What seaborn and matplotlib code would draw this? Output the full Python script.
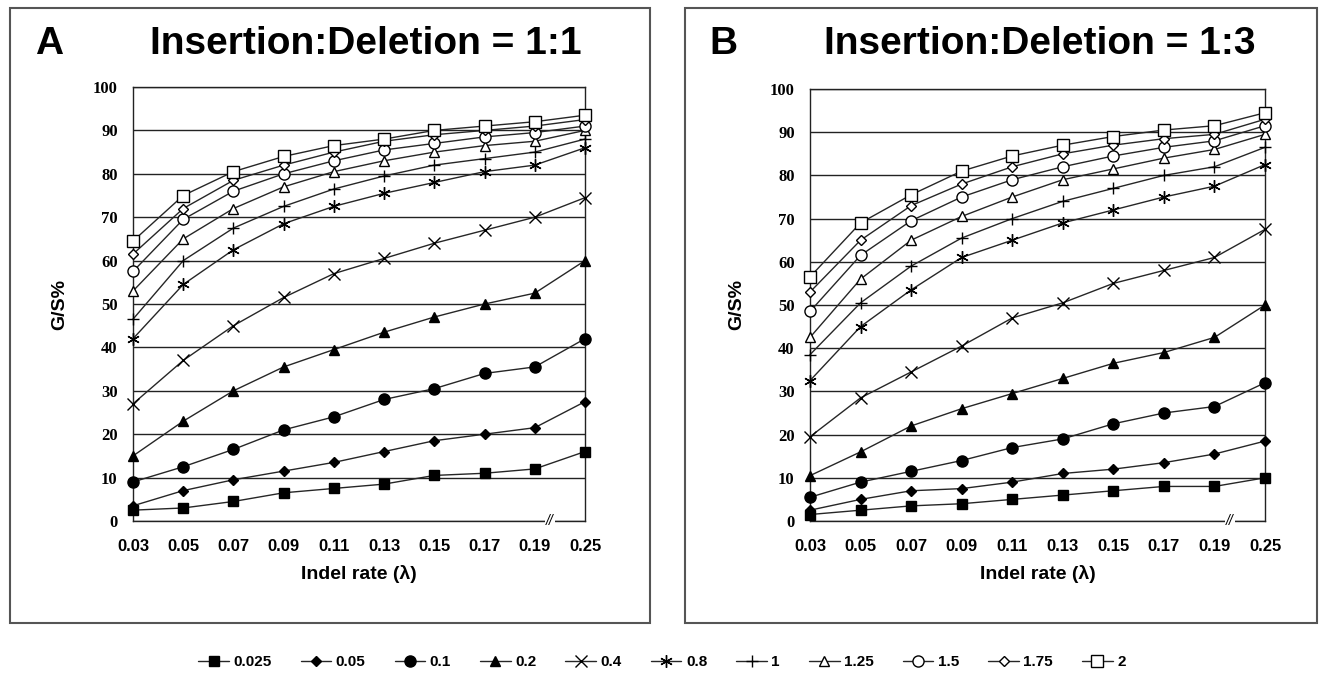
import numpy as np
import pandas as pd
import matplotlib
matplotlib.use("Agg")
import matplotlib.pyplot as plt
import seaborn as sns
from matplotlib.patches import Rectangle

# eixo x (taxa de indel) e séries (razão)
rates = ["0.03", "0.05", "0.07", "0.09", "0.11", "0.13", "0.15", "0.17", "0.19", "0.25"]
ratios = ["0.025", "0.05", "0.1", "0.2", "0.4", "0.8", "1", "1.25", "1.5", "1.75", "2"]

# Painel A - Insertion:Deletion = 1:1
a_0025 = [2.5, 3, 4.5, 6.5, 7.5, 8.5, 10.5, 11, 12, 16]
a_005 = [3.5, 7, 9.5, 11.5, 13.5, 16, 18.5, 20, 21.5, 27.5]
a_01 = [9, 12.5, 16.5, 21, 24, 28, 30.5, 34, 35.5, 42]
a_02 = [15, 23, 30, 35.5, 39.5, 43.5, 47, 50, 52.5, 60]
a_04 = [27, 37, 45, 51.5, 57, 60.5, 64, 67, 70, 74.5]
a_08 = [42, 54.5, 62.5, 68.5, 72.5, 75.5, 78, 80.5, 82, 86]
a_1 = [46.5, 60, 67.5, 72.5, 76.5, 79.5, 82, 83.5, 85, 88]
a_125 = [53, 65, 72, 77, 80.5, 83, 85, 86.5, 87.5, 90]
a_15 = [57.5, 69.5, 76, 80, 83, 85.5, 87, 88.5, 89.5, 91]
a_175 = [61.5, 72, 78.5, 82, 85, 87.5, 89, 90, 91, 92.5]
a_2 = [64.5, 75, 80.5, 84, 86.5, 88, 90, 91, 92, 93.5]

# Painel B - Insertion:Deletion = 1:3
b_0025 = [1.5, 2.5, 3.5, 4, 5, 6, 7, 8, 8, 10]
b_005 = [2.5, 5, 7, 7.5, 9, 11, 12, 13.5, 15.5, 18.5]
b_01 = [5.5, 9, 11.5, 14, 17, 19, 22.5, 25, 26.5, 32]
b_02 = [10.5, 16, 22, 26, 29.5, 33, 36.5, 39, 42.5, 50]
b_04 = [19.5, 28.5, 34.5, 40.5, 47, 50.5, 55, 58, 61, 67.5]
b_08 = [32.5, 45, 53.5, 61, 65, 69, 72, 75, 77.5, 82.5]
b_1 = [38.5, 50.5, 59, 65.5, 70, 74, 77, 80, 82, 86.5]
b_125 = [42.5, 56, 65, 70.5, 75, 79, 81.5, 84, 86, 89.5]
b_15 = [48.5, 61.5, 69.5, 75, 79, 82, 84.5, 86.5, 88, 91.5]
b_175 = [53, 65, 73, 78, 82, 85, 87, 88.5, 89.5, 93]
b_2 = [56.5, 69, 75.5, 81, 84.5, 87, 89, 90.5, 91.5, 94.5]

serie_a = [a_0025, a_005, a_01, a_02, a_04, a_08, a_1, a_125, a_15, a_175, a_2]
serie_b = [b_0025, b_005, b_01, b_02, b_04, b_08, b_1, b_125, b_15, b_175, b_2]

# marcador, preenchido, tamanho
estilos = {
    "0.025": ("s", True, 7.5),
    "0.05": ("D", True, 5),
    "0.1": ("o", True, 8),
    "0.2": ("^", True, 7.5),
    "0.4": ("x", False, 8.5),
    "0.8": ((6, 2, 0), False, 9),
    "1": ("+", False, 9),
    "1.25": ("^", False, 7.5),
    "1.5": ("o", False, 8),
    "1.75": ("D", False, 5.5),
    "2": ("s", False, 8),
}

sns.set_style("white")
plt.rcParams["font.family"] = ["Liberation Sans", "DejaVu Sans"]
plt.rcParams["text.color"] = "black"
plt.rcParams["axes.labelcolor"] = "black"
plt.rcParams["xtick.color"] = "black"
plt.rcParams["ytick.color"] = "black"

W, H = 1320, 677
fig = plt.figure(figsize=(W / 100, H / 100), dpi=100)


def fx(px):
    return px / W


def fy(py):
    return 1 - py / H


def desenhar_painel(left, right, top, bottom, valores, letra, titulo, cx):
    ax = fig.add_axes([fx(left), fy(bottom), fx(right - left), fy(top) - fy(bottom)])
    df = pd.DataFrame({
        "pos": np.tile(np.arange(len(rates)), len(ratios)),
        "ratio": np.repeat(ratios, len(rates)),
        "gs": np.concatenate(valores),
    })
    for ratio in ratios:
        m, cheio, ms = estilos[ratio]
        sub = df[df["ratio"] == ratio]
        sns.lineplot(data=sub, x="pos", y="gs", ax=ax, color="#262626", lw=1,
                     marker=m, ms=ms, mfc="black" if cheio else "white",
                     mec="black", mew=1, clip_on=False, legend=False, zorder=4)
    ax.set_xlim(0, len(rates) - 1)
    ax.set_ylim(0, 100)
    ax.set_xticks(np.arange(len(rates)))
    ax.set_xticklabels(rates, fontsize=12, fontweight="bold")
    ax.set_yticks(np.arange(0, 101, 10))
    ax.set_yticklabels([str(v) for v in range(0, 101, 10)], fontsize=12,
                       fontweight="bold", family="Liberation Serif")
    ax.yaxis.grid(True, color="#222222", lw=1)
    ax.set_axisbelow(True)
    for s in ax.spines.values():
        s.set_visible(True)
        s.set_color("#222222")
        s.set_linewidth(1)
    ax.tick_params(axis="x", direction="inout", length=10, width=1, color="#222222", pad=8)
    ax.tick_params(axis="y", direction="out", length=5, width=1, color="#222222", pad=6)
    ax.set_xlabel("Indel rate (λ)", fontsize=14, fontweight="bold", labelpad=8)
    ax.set_ylabel("G/S%", fontsize=14, fontweight="bold", labelpad=18)
    # quebra no eixo x
    ax.text(8.3, 0, "//", fontsize=10, ha="center", va="center", style="italic",
            bbox=dict(fc="white", ec="none", pad=0.8), clip_on=False, zorder=5)
    fig.text(fx(cx - 331), fy(44), letra, fontsize=28, fontweight="bold", ha="left", va="center")
    fig.text(fx(cx), fy(44), titulo, fontsize=28, fontweight="bold", ha="center", va="center")
    return ax


ax_a = desenhar_painel(133, 585, 87, 521, serie_a, "A", "Insertion:Deletion = 1:1", 366)
ax_b = desenhar_painel(810, 1265, 89, 521, serie_b, "B", "Insertion:Deletion = 1:3", 1040)

# caixas dos painéis
fig.add_artist(Rectangle((fx(10), fy(623)), fx(650 - 10), fy(8) - fy(623),
                         transform=fig.transFigure, fill=False, ec="#555555", lw=1.5))
fig.add_artist(Rectangle((fx(685), fy(623)), fx(1317 - 685), fy(8) - fy(623),
                         transform=fig.transFigure, fill=False, ec="#555555", lw=1.5))

handles = ax_a.get_lines()[:len(ratios)]
fig.legend(handles, ratios, loc="center", bbox_to_anchor=(fx(662), fy(662)),
           ncol=len(ratios), frameon=False, handlelength=2.0,
           handletextpad=0.3, columnspacing=1.9, prop={"weight": "bold", "size": 11})

fig.savefig("out.png", dpi=100)
